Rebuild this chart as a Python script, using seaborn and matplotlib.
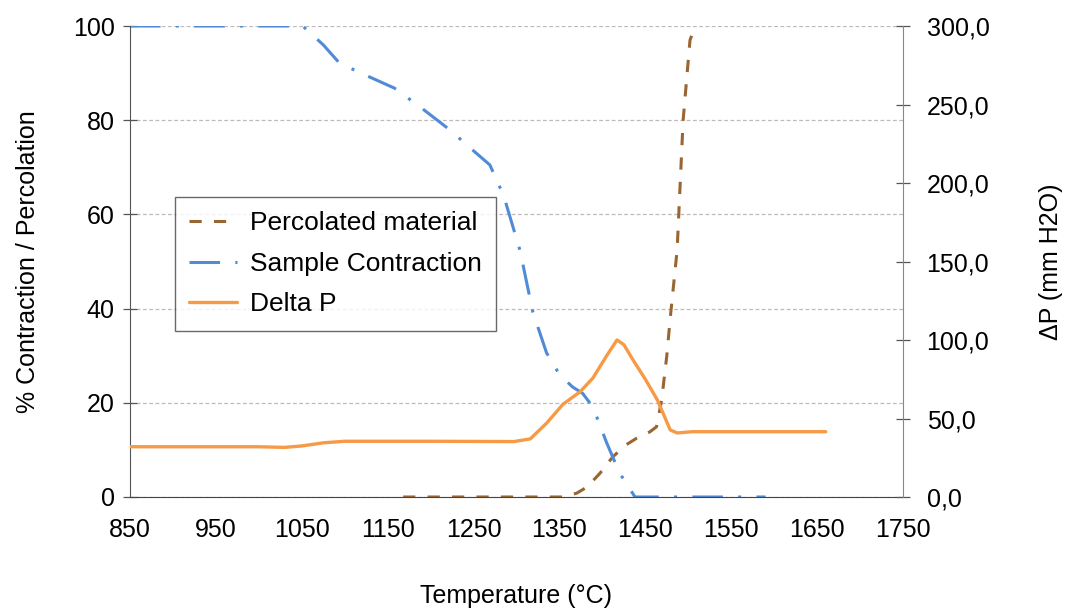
import matplotlib
matplotlib.use("Agg")
import matplotlib.pyplot as plt
import seaborn as sns
import pandas as pd

# percolated material (% , left axis)
perc_temp = [1168, 1250, 1353, 1370, 1382, 1397, 1412, 1427, 1440, 1455, 1463, 1469, 1475, 1479, 1487, 1494, 1502, 1508]
perc_val = [0, 0, 0, 0.8, 2.1, 5.0, 8.5, 11.0, 12.5, 13.8, 14.9, 20.6, 30.0, 38.0, 52.4, 80.0, 97.0, 100.0]

# sample contraction (% , left axis)
contr_temp = [850, 950, 1000, 1051, 1075, 1094, 1125, 1158, 1190, 1222, 1250, 1269, 1285, 1304, 1319, 1335, 1350,
              1365, 1377, 1389, 1405, 1420, 1438, 1500, 1590]
contr_val = [100, 100, 100, 100, 96.0, 92.1, 89.5, 86.8, 82.5, 78.0, 73.5, 70.5, 64.0, 52.4, 39.3, 30.6, 26.0,
             23.4, 22.0, 19.1, 11.5, 5.1, 0, 0, 0]

# delta P (mm H2O, right axis)
dp_temp = [850, 950, 1000, 1030, 1050, 1075, 1100, 1200, 1297, 1316, 1335, 1354, 1374, 1389, 1405, 1417, 1425,
           1436, 1450, 1464, 1479, 1487, 1505, 1560, 1660]
dp_val = [32.0, 32.0, 32.0, 31.6, 32.5, 34.5, 35.5, 35.5, 35.3, 37.0, 47.0, 59.0, 67.0, 75.8, 90.0, 100.0, 97.0,
          87.0, 75.0, 61.8, 42.7, 40.8, 41.6, 41.6, 41.6]

x_ticks = [850, 950, 1050, 1150, 1250, 1350, 1450, 1550, 1650, 1750]
left_ticks = [0, 20, 40, 60, 80, 100]
right_ticks = [0, 50, 100, 150, 200, 250, 300]

sns.set_style("white")
plt.rcParams['font.family'] = ['Liberation Sans', 'DejaVu Sans']
plt.rcParams['text.color'] = 'black'
plt.rcParams['axes.labelcolor'] = 'black'
plt.rcParams['xtick.color'] = 'black'
plt.rcParams['ytick.color'] = 'black'

fig = plt.figure(figsize=(10.76, 6.08), dpi=100)
ax = fig.add_axes([130 / 1076, 1 - 497 / 608, 773 / 1076, 471 / 608])
ax2 = ax.twinx()

brown = "#996633"
blue = "#4F8BD6"
orange = "#F79A46"

sns.lineplot(x=perc_temp, y=perc_val, ax=ax, color=brown, lw=2.2, label="Percolated material")
sns.lineplot(x=contr_temp, y=contr_val, ax=ax, color=blue, lw=2.2, label="Sample Contraction")
sns.lineplot(x=dp_temp, y=dp_val, ax=ax2, color=orange, lw=2.4, label="Delta P")
ax.lines[0].set_dashes([4, 4])
ax.lines[1].set_dashes([10, 5, 1, 5])

ax.set_xlim(850, 1750)
ax.set_ylim(0, 100)
ax2.set_ylim(0, 300)
ax.set_xticks(x_ticks)
ax.set_yticks(left_ticks)
ax2.set_yticks(right_ticks)
ax2.set_yticklabels([f"{v:.1f}".replace(".", ",") for v in right_ticks])

ax.yaxis.grid(True, color="#BBBBBB", ls=(0, (3, 2)), lw=0.9)
ax.set_axisbelow(True)

for a in (ax, ax2):
    a.spines["top"].set_visible(False)
ax.spines["right"].set_visible(False)
ax2.spines["left"].set_visible(False)
ax2.spines["bottom"].set_visible(False)
ax.spines["left"].set_color("#555555")
ax.spines["bottom"].set_color("#444444")
ax2.spines["right"].set_color("#888888")

ax.tick_params(axis="both", direction="inout", length=10, width=0.9, color="#555555", labelsize=18)
ax.tick_params(axis="x", pad=10)
ax.tick_params(axis="y", pad=6)
ax2.tick_params(axis="y", direction="inout", length=10, width=0.9, color="#555555", labelsize=18, pad=12)

ax.set_xlabel("Temperature (°C)", fontsize=18, labelpad=30)
ax.set_ylabel("% Contraction / Percolation", fontsize=18, labelpad=24)
ax2.set_ylabel("ΔP (mm H2O)", fontsize=18, labelpad=36)

h1, l1 = ax.get_legend_handles_labels()
h2, l2 = ax2.get_legend_handles_labels()
ax2.get_legend().remove()
leg = ax.legend(h1 + h2, l1 + l2, loc="upper left", bbox_to_anchor=(0.058, 0.637), borderaxespad=0,
                fontsize=19, frameon=True, fancybox=False, edgecolor="#444444", handlelength=1.8,
                labelspacing=0.62, borderpad=0.55, handletextpad=0.5)
leg.get_frame().set_linewidth(1.0)

fig.savefig("out.png", dpi=100)
